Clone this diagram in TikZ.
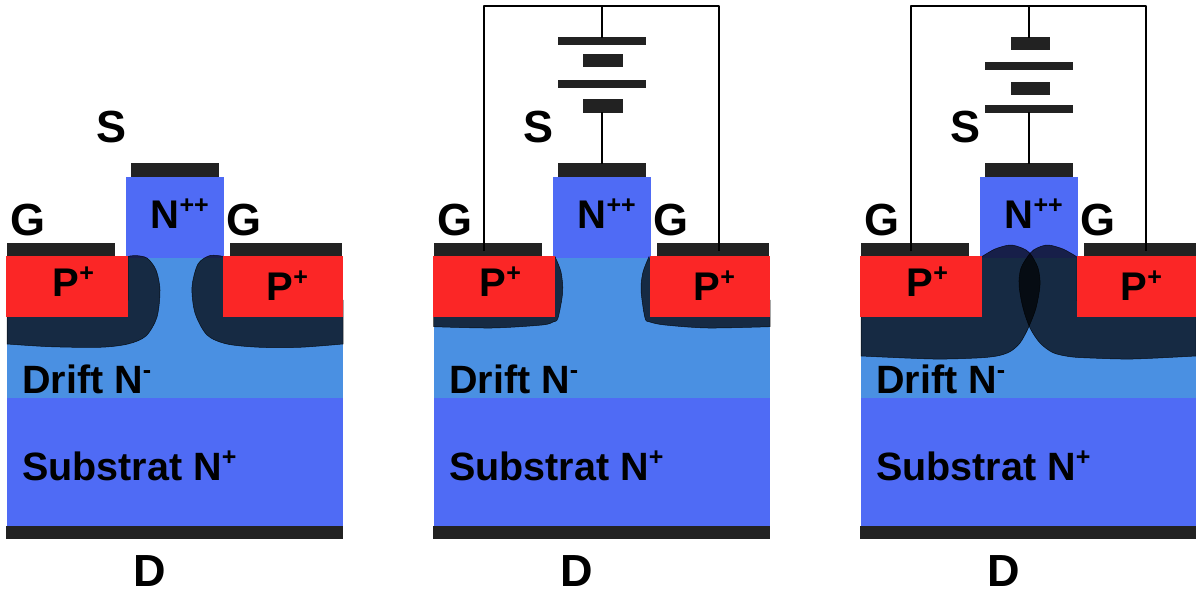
\documentclass[tikz,border=0pt]{standalone}
\usepackage{fontspec}
\setmainfont{Liberation Sans}
\definecolor{driftblue}{HTML}{4A90E2}
\definecolor{subblue}{HTML}{4F6BF5}
\definecolor{pred}{HTML}{FB2626}
\definecolor{metal}{HTML}{222222}
\newcommand{\dopant}[1]{\raisebox{15pt}{\fontsize{25}{25}\selectfont #1}}
\tikzset{
  metalpart/.style={fill=metal},
  depletion/.style={fill=black,fill opacity=0.7,draw=black,draw opacity=0.8,line width=0.5pt},
  wire/.style={draw=black,line width=2.3pt},
  lbl/.style={anchor=base west,inner sep=0pt,font=\bfseries\fontsize{#1}{#1}\selectfont},
  lbl/.default=40
}
\begin{document}
\begin{tikzpicture}[x=1pt,y=-1pt]
  \useasboundingbox (0,0) rectangle (1196,594);

  % Semiconductor layers
  \foreach \dx in {0,427,854}{
    \begin{scope}[xshift=\dx pt]
      \fill[driftblue] (7,258) rectangle (343,398);
      \fill[subblue] (7,398) rectangle (343,526);
      \fill[subblue] (125.5,177) rectangle (224,258);
    \end{scope}
  }

  % Depletion zones, no bias
  \path[depletion] plot[smooth,tension=0.5] coordinates {(128,256.5) (135,255.5) (147,258) (156,270) (160,290) (157,317) (146,336) (128,344) (100,347.3) (50,346.7) (7,344)} -- (7,300) -- (128,300) -- cycle;
  \path[depletion] plot[smooth,tension=0.5] coordinates {(224,256.5) (210,255.5) (198,264) (192,287) (195,313) (207,335) (227,344) (260,347.3) (300,347.3) (343,344)} -- (343,300) -- (224,300) -- cycle;

  % Depletion zones, reduced
  \path[depletion] plot[smooth,tension=0.5] coordinates {(555,256.7) (561,272) (562.7,292) (558,318) (553,322) (542,325) (492,328) (433.5,326.7)} -- (433.5,300) -- (540,300) -- cycle;
  \path[depletion] plot[smooth,tension=0.5] coordinates {(649,256.7) (643,272) (641,290) (645,318) (650,322) (665,325) (708,328) (770,326.7)} -- (770,300) -- (660,300) -- cycle;

  % Depletion zones, widened
  \path[depletion] plot[smooth,tension=0.5] coordinates {(981.7,256.7) (995,249) (1010,245) (1022,248) (1030,253.3) (1038,268) (1040,285) (1036,308) (1028.3,328) (1020,343) (1010,351.7) (997,356) (977,358) (933,359) (861,356)} -- (861,300) -- (981.7,300) -- cycle;
  \path[depletion] plot[smooth,tension=0.5] coordinates {(1076.7,256.7) (1063,249) (1048,245) (1037,248) (1030,253.3) (1021,268) (1019,285) (1023,308) (1030,328) (1040,343) (1053,352.7) (1070,356.7) (1090,358) (1133,359) (1196,356)} -- (1196,300) -- (1076.7,300) -- cycle;

  % Red wells, contacts and labels
  \foreach \i/\dx in {1/0,2/427,3/854}{
    \begin{scope}[xshift=\dx pt]
      \fill[pred] (6,256) rectangle (128,317);
      \fill[pred] (223,256) rectangle (343,317);
      \fill[metalpart] (131,163) rectangle (219,177);
      \fill[metalpart] (7,243) rectangle (115,256);
      \fill[metalpart] (230,243) rectangle (342,256);
      \fill[metalpart] (6,526) rectangle (343,539);
      \coordinate (gl\i) at (57,251);
      \coordinate (gr\i) at (292,251);
      \coordinate (s\i) at (174.7,164);
      \node[lbl=45] (labS\i) at (96,142) {S};
      \node[lbl=45] (labGl\i) at (10,235) {G};
      \node[lbl=45] (labGr\i) at (226,235) {G};
      \node[lbl=45] (labD\i) at (133.5,586) {D};
      \node[lbl] (labN\i) at (150.5,228) {N\dopant{++}};
      \node[lbl] (labPl\i) at (52.5,296.7) {P\dopant{+}};
      \node[lbl] (labPr\i) at (266.5,300) {P\dopant{+}};
      \node[lbl=39.5] (labDrift\i) at (22,393) {Drift N\dopant{-}};
      \node[lbl=39.5] (labSub\i) at (22,480) {Substrat N\dopant{+}};
    \end{scope}
  }

  % Battery with long plate on top
  \fill[metalpart] (557.7,37) rectangle (645.7,44.7);
  \fill[metalpart] (583,54) rectangle (622.7,67.5);
  \fill[metalpart] (557.7,80) rectangle (645.7,87.7);
  \fill[metalpart] (583,99.3) rectangle (622.7,112.7);
  \coordinate (top2) at (601.7,6);
  \coordinate (batA2) at (601.7,38);
  \coordinate (batB2) at (601.7,112);
  \draw[wire,line join=round] (gl2) |- (top2) -| (gr2);
  \draw[wire] (top2) -- (batA2);
  \draw[wire] (batB2) -- (s2);

  % Battery with short plate on top
  \fill[metalpart] (1010.7,37) rectangle (1050,50.3);
  \fill[metalpart] (984.7,62) rectangle (1073,69.7);
  \fill[metalpart] (1010.7,82) rectangle (1050,95.3);
  \fill[metalpart] (984.7,105) rectangle (1073,112.5);
  \coordinate (top3) at (1028.7,6);
  \coordinate (batA3) at (1028.7,38);
  \coordinate (batB3) at (1028.7,112);
  \draw[wire,line join=round] (gl3) |- (top3) -| (gr3);
  \draw[wire] (top3) -- (batA3);
  \draw[wire] (batB3) -- (s3);
\end{tikzpicture}
\end{document}
